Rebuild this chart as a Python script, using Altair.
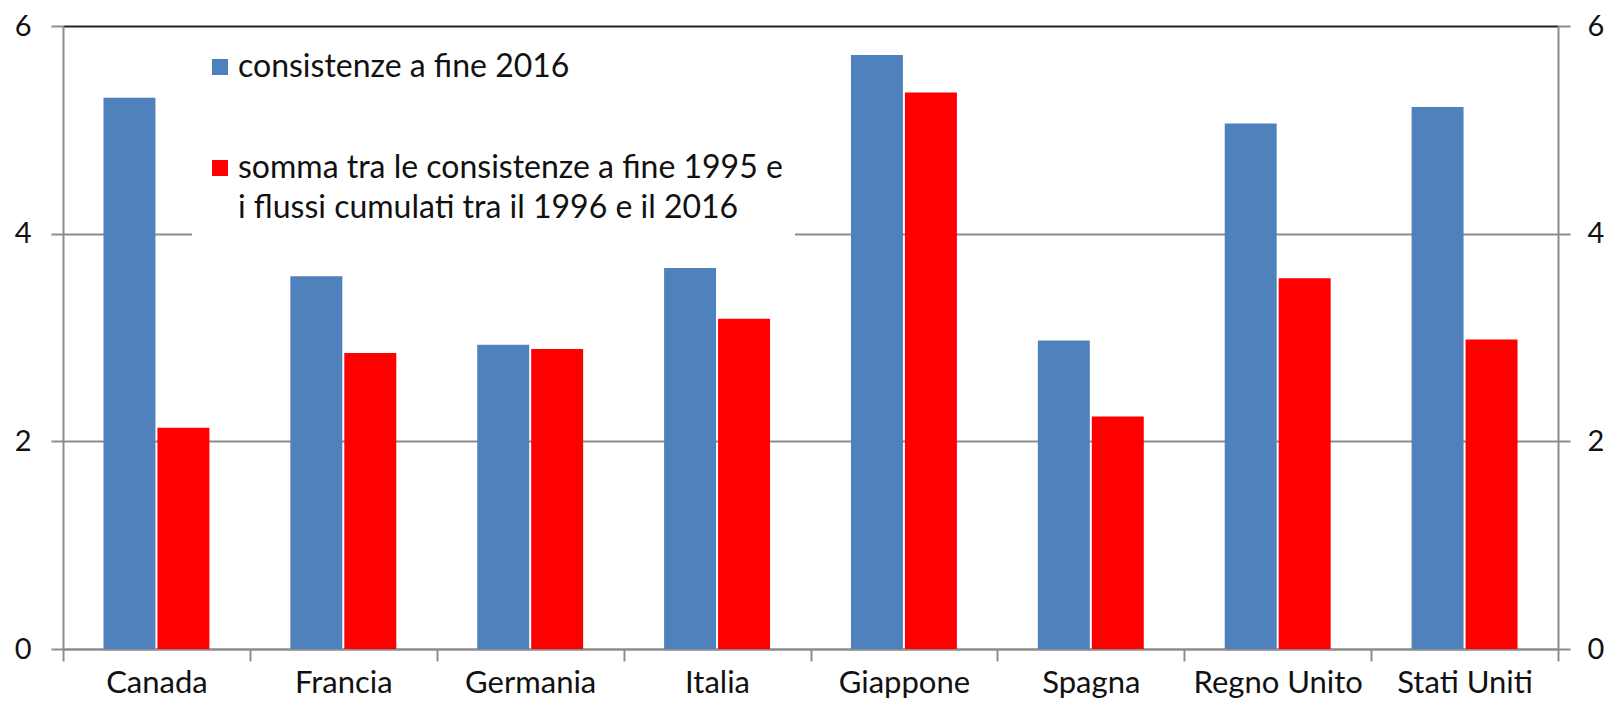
import altair as alt
import pandas as pd

paesi = ["Canada", "Francia", "Germania", "Italia", "Giappone", "Spagna", "Regno Unito", "Stati Uniti"]
serie = [
    "consistenze a fine 2016",
    "somma tra le consistenze a fine 1995 e\ni flussi cumulati tra il 1996 e il 2016",
]
consistenze_2016 = [5.31, 3.59, 2.93, 3.67, 5.72, 2.97, 5.06, 5.22]
somma_flussi = [2.13, 2.85, 2.89, 3.18, 5.36, 2.24, 3.57, 2.98]
tick_values = [0, 2, 4, 6]
colori = ["#4F81BD", "#FF0000"]

rows = []
for p, a, b in zip(paesi, consistenze_2016, somma_flussi):
    rows.append({"paese": p, "serie": serie[0], "valore": a})
    rows.append({"paese": p, "serie": serie[1], "valore": b})
df = pd.DataFrame(rows)

FONT = "Lato"
TXT = "#111111"
GRAY = "#8c8c8c"

x_enc = alt.X(
    "paese:N",
    sort=paesi,
    scale=alt.Scale(paddingInner=0, paddingOuter=0),
    axis=alt.Axis(
        title=None, labelAngle=0, tickBand="extent", tickSize=12,
        labelPadding=7, labelFontSize=31, labelFont=FONT, labelColor=TXT,
        domainColor=GRAY, tickColor=GRAY, domainWidth=2, tickWidth=2,
    ),
)
xoff_enc = alt.XOffset("serie:N", sort=serie, scale=alt.Scale(paddingInner=0.037, paddingOuter=0.75))
y_scale = alt.Scale(domain=[0, 6], nice=False)

bars = alt.Chart(df).mark_bar().encode(
    x=x_enc,
    xOffset=xoff_enc,
    y=alt.Y(
        "valore:Q", scale=y_scale,
        axis=alt.Axis(
            orient="left", title=None, values=tick_values, tickSize=12, labelPadding=20,
            labelFontSize=29, labelFont=FONT, labelColor=TXT,
            domainColor=GRAY, tickColor=GRAY, domainWidth=2, tickWidth=2,
            grid=True, gridWidth=2,
            gridColor={"condition": {"test": "datum.value === 6", "value": "#222222"}, "value": GRAY},
        ),
    ),
    color=alt.Color(
        "serie:N", sort=serie,
        scale=alt.Scale(domain=serie, range=colori),
        legend=alt.Legend(
            title=None, orient="none", legendX=129, legendY=13,
            labelExpr="split(datum.label, '\\n')",
            labelFont=FONT, labelFontSize=32, labelColor=TXT, labelLimit=900,
            symbolType="square", symbolSize=256, symbolStrokeWidth=0, symbolOpacity=1,
            labelOffset=2, rowPadding=69, padding=12, fillColor="white",
        ),
    ),
)

right = alt.Chart(df).mark_bar(opacity=0).encode(
    x=x_enc,
    xOffset=xoff_enc,
    y=alt.Y(
        "valore:Q", scale=y_scale,
        axis=alt.Axis(
            orient="right", title=None, values=tick_values, tickSize=12, labelPadding=17,
            labelFontSize=29, labelFont=FONT, labelColor=TXT,
            domainColor=GRAY, tickColor=GRAY, domainWidth=2, tickWidth=2, grid=False,
        ),
    ),
)

chart = (
    alt.layer(bars, right)
    .resolve_axis(y="independent")
    .properties(
        width=1495, height=623,
        autosize=alt.AutoSizeParams(type="none"),
        padding={"left": 55, "top": 18, "right": 46, "bottom": 51},
    )
    .configure(
        background="white",
        view=alt.ViewConfig(stroke="transparent"),
        style={"guide-label": {"lineHeight": 40}},
    )
)

chart.save("out.html", embed_options={"renderer": "svg", "actions": False})
